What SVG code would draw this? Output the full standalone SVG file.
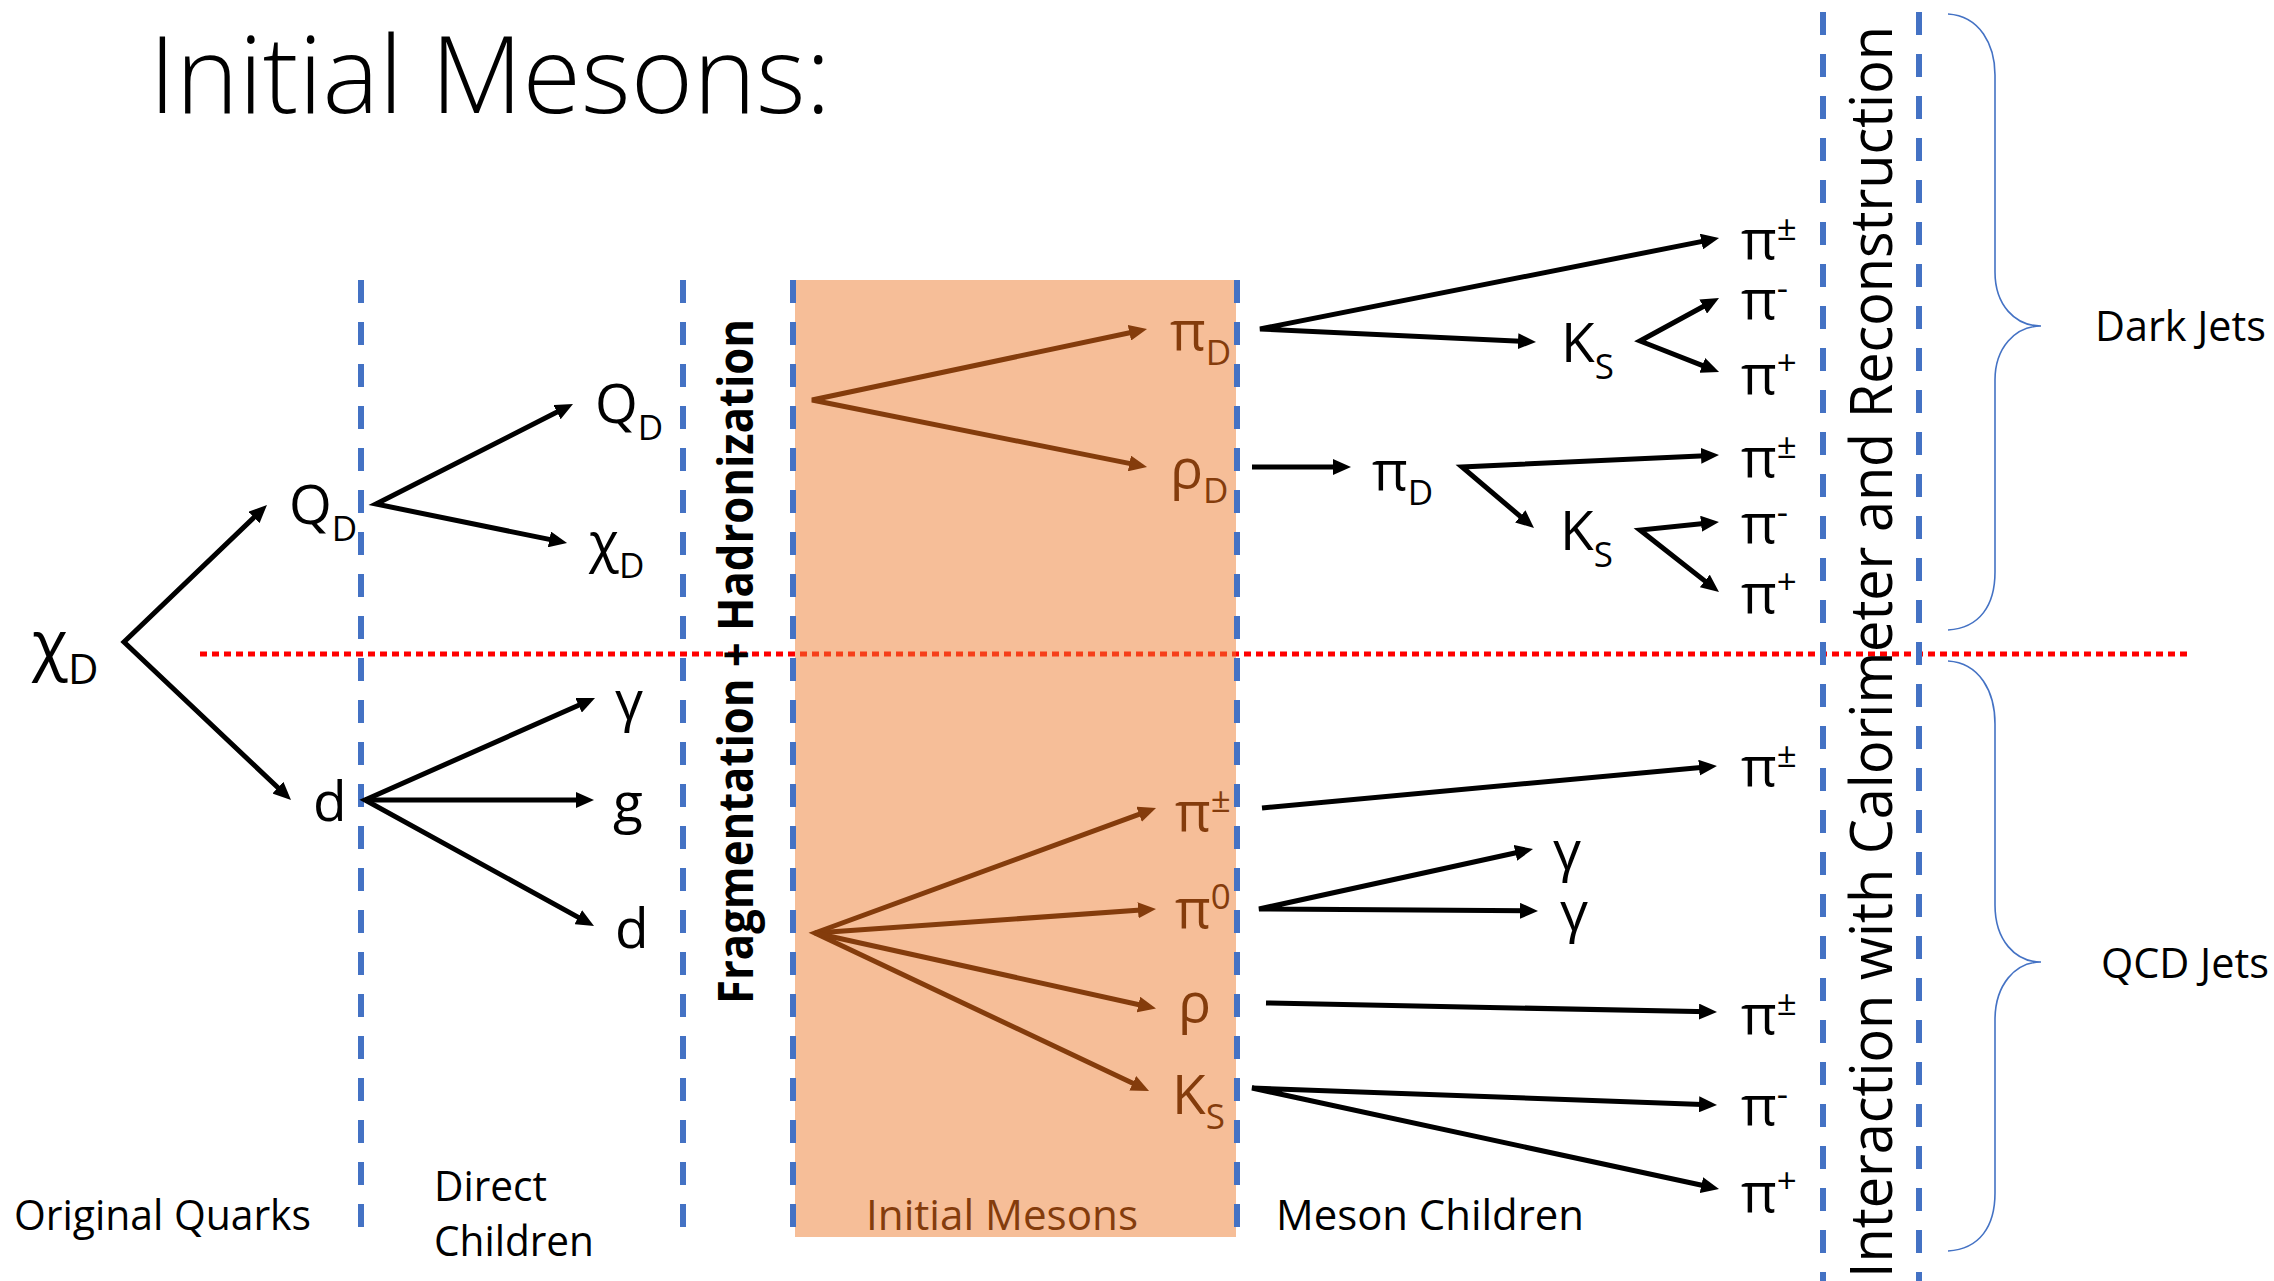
<svg xmlns="http://www.w3.org/2000/svg" width="2274" height="1281" viewBox="0 0 2274 1281">
<style>
text{font-family:"Open Sans","Noto Sans",sans-serif;fill:#000}
.n{font-size:55px}
.big{font-size:66px}
.s{font-size:35px}
.sb{font-size:42px}
.lab{font-size:42px}
.br{fill:#843C0C}
.ln{fill:none;stroke:#000;stroke-width:5;marker-end:url(#ah)}
.fk{fill:none;stroke:#000;stroke-width:5;stroke-linejoin:miter;marker-start:url(#ah);marker-end:url(#ah)}
.lnb{fill:none;stroke:#843C0C;stroke-width:5;marker-end:url(#ahb)}
.fkb{fill:none;stroke:#843C0C;stroke-width:5;stroke-linejoin:miter;marker-start:url(#ahb);marker-end:url(#ahb)}
.bd{stroke:#4472C4;stroke-width:6;stroke-dasharray:23 19;fill:none}
.brace{fill:none;stroke:#4472C4;stroke-width:1.6}
</style>
<defs>
<marker id="ah" markerUnits="userSpaceOnUse" markerWidth="18" markerHeight="16" viewBox="0 0 18 16" refX="10" refY="8" orient="auto-start-reverse"><path d="M0,0 L18,8 L0,16 z" fill="#000"/></marker>
<marker id="ahb" markerUnits="userSpaceOnUse" markerWidth="18" markerHeight="16" viewBox="0 0 18 16" refX="10" refY="8" orient="auto-start-reverse"><path d="M0,0 L18,8 L0,16 z" fill="#843C0C"/></marker>
</defs>
<rect width="2274" height="1281" fill="#fff"/>

<g id="background">
<line x1="200" y1="654" x2="2187" y2="654" stroke="#FF0000" stroke-width="5" stroke-dasharray="7 5"/>
<rect id="initial-mesons-band" x="795" y="280" width="441" height="957" fill="#ED7D31" fill-opacity="0.5"/>
<line class="bd" x1="361" y1="280" x2="361" y2="1232"/>
<line class="bd" x1="683" y1="280" x2="683" y2="1232"/>
<line class="bd" x1="793" y1="280" x2="793" y2="1237"/>
<line class="bd" x1="1237" y1="280" x2="1237" y2="1237"/>
<line class="bd" x1="1823" y1="12" x2="1823" y2="1281"/>
<line class="bd" x1="1919" y1="12" x2="1919" y2="1281"/>
<path class="brace" d="M1948,14 C1980,16 1995,45 1995,75 L1995,272 C1995,305 2015,326 2041,326 C2015,326 1995,348 1995,380 L1995,572 C1995,605 1980,628 1948,630"/>
<path class="brace" d="M1948,661 C1980,663 1995,692 1995,724 L1995,905 C1995,940 2015,962 2041,962 C2015,962 1995,985 1995,1020 L1995,1193 C1995,1226 1980,1249 1948,1251"/>
</g>

<g id="connectors">
<path class="fk" d="M261.2,510.5 L124,642 L285.2,794.5"/>
<path class="fk" d="M565.9,407.6 L376,504 L559.2,541.4"/>
<path class="fk" d="M587.7,701.2 L365,800 L587,922.1"/>
<line class="ln" x1="365" y1="800" x2="586" y2="800"/>
<path class="fkb" d="M1139.2,330.7 L812,400 L1139.2,465.4"/>
<path class="fkb" d="M1148.5,810.8 L815,933 L1141.8,1087.6"/>
<line class="lnb" x1="815" y1="933" x2="1148" y2="909.6"/>
<line class="lnb" x1="815" y1="933" x2="1148.2" y2="1006.7"/>
<path class="fk" d="M1711.2,239.6 L1260,329 L1528,341.6"/>
<path class="fk" d="M1712,301.8 L1640,341 L1711.6,369.1"/>
<line class="ln" x1="1252" y1="467" x2="1343" y2="467"/>
<path class="fk" d="M1711,455.4 L1462,467 L1527.9,522.8"/>
<path class="fk" d="M1711,522.8 L1640,530 L1712.7,587.1"/>
<line class="ln" x1="1262" y1="808" x2="1709" y2="766.7"/>
<path class="fk" d="M1525.2,850.7 L1259,909 L1530,910.9"/>
<line class="ln" x1="1266" y1="1003" x2="1709" y2="1011.8"/>
<path class="fk" d="M1709,1104.7 L1252,1088 L1711.2,1187.3"/>
</g>

<g id="title"><text x="149" y="113" font-size="107" font-weight="300" textLength="682" lengthAdjust="spacingAndGlyphs">Initial Mesons:</text></g>

<g id="node-chiD-orig"><text class="big" x="32" y="667">χ<tspan class="sb" dy="17">D</tspan></text></g>
<g id="node-QD-1"><text class="n" x="289" y="524">Q<tspan class="s" dy="17">D</tspan></text></g>
<g id="node-d-1"><text class="n" x="313" y="821">d</text></g>
<g id="node-QD-2"><text class="n" x="595" y="423">Q<tspan class="s" dy="17">D</tspan></text></g>
<g id="node-chiD-2"><text class="n" x="589" y="561">χ<tspan class="s" dy="17">D</tspan></text></g>
<g id="node-gamma-1"><text class="n" x="615" y="720">γ</text></g>
<g id="node-g"><text class="n" x="613" y="822">g</text></g>
<g id="node-d-2"><text class="n" x="615" y="948">d</text></g>

<g id="node-piD-1"><text class="n br" x="1170" y="350">π<tspan class="s" dy="15">D</tspan></text></g>
<g id="node-rhoD"><text class="n br" x="1170" y="488">ρ<tspan class="s" dy="15">D</tspan></text></g>
<g id="node-pipm-box"><text class="n br" x="1175" y="831">π<tspan class="s" dy="-19">±</tspan></text></g>
<g id="node-pi0-box"><text class="n br" x="1175" y="928">π<tspan class="s" dy="-19">0</tspan></text></g>
<g id="node-rho-box"><text class="n br" x="1178" y="1022">ρ</text></g>
<g id="node-KS-box"><text class="n br" x="1172" y="1114">K<tspan class="s" dy="15">S</tspan></text></g>

<g id="node-pipm-a"><text class="n" x="1741" y="259">π<tspan class="s" dy="-19">±</tspan></text></g>
<g id="node-KS-a"><text class="n" x="1561" y="362">K<tspan class="s" dy="17">S</tspan></text></g>
<g id="node-pim-a"><text class="n" x="1741" y="319">π<tspan class="s" dy="-19">-</tspan></text></g>
<g id="node-pip-a"><text class="n" x="1741" y="394">π<tspan class="s" dy="-19">+</tspan></text></g>
<g id="node-piD-2"><text class="n" x="1372" y="490">π<tspan class="s" dy="15">D</tspan></text></g>
<g id="node-pipm-b"><text class="n" x="1741" y="477">π<tspan class="s" dy="-19">±</tspan></text></g>
<g id="node-KS-b"><text class="n" x="1560" y="550">K<tspan class="s" dy="17">S</tspan></text></g>
<g id="node-pim-b"><text class="n" x="1741" y="543">π<tspan class="s" dy="-19">-</tspan></text></g>
<g id="node-pip-b"><text class="n" x="1741" y="613">π<tspan class="s" dy="-19">+</tspan></text></g>

<g id="node-pipm-d"><text class="n" x="1741" y="786">π<tspan class="s" dy="-19">±</tspan></text></g>
<g id="node-gamma-2"><text class="n" x="1553" y="870">γ</text></g>
<g id="node-gamma-3"><text class="n" x="1560" y="931">γ</text></g>
<g id="node-pipm-e"><text class="n" x="1741" y="1034">π<tspan class="s" dy="-19">±</tspan></text></g>
<g id="node-pim-f"><text class="n" x="1741" y="1125">π<tspan class="s" dy="-19">-</tspan></text></g>
<g id="node-pip-g"><text class="n" x="1741" y="1212">π<tspan class="s" dy="-19">+</tspan></text></g>

<g id="stage-labels">
<text class="lab" x="14" y="1230" textLength="297" lengthAdjust="spacingAndGlyphs">Original Quarks</text>
<text class="lab" x="434" y="1201" textLength="113" lengthAdjust="spacingAndGlyphs">Direct</text>
<text class="lab" x="434" y="1256" textLength="160" lengthAdjust="spacingAndGlyphs">Children</text>
<text class="lab br" x="866" y="1230" textLength="272" lengthAdjust="spacingAndGlyphs">Initial Mesons</text>
<text class="lab" x="1276" y="1230" textLength="308" lengthAdjust="spacingAndGlyphs">Meson Children</text>
<text font-size="49" font-weight="700" transform="translate(753,1004) rotate(-90)" textLength="685" lengthAdjust="spacingAndGlyphs">Fragmentation + Hadronization</text>
<text font-size="58" transform="translate(1892,1278) rotate(-90)" textLength="1252" lengthAdjust="spacingAndGlyphs">Interaction with Calorimeter and Reconstruction</text>
</g>
<g id="jet-labels">
<text class="lab" x="2095" y="341" textLength="171" lengthAdjust="spacingAndGlyphs">Dark Jets</text>
<text class="lab" x="2101" y="978" textLength="168" lengthAdjust="spacingAndGlyphs">QCD Jets</text>
</g>
</svg>
